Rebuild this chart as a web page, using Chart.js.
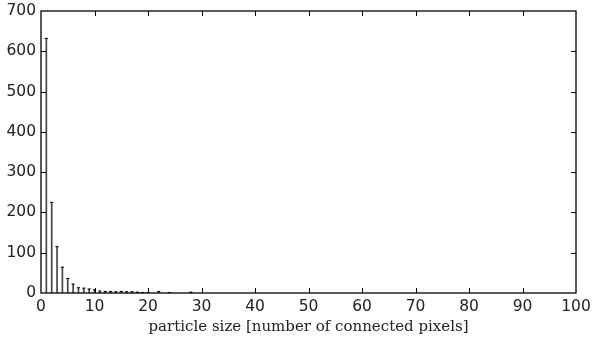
<!DOCTYPE html>
<html>
<head>
<meta charset="utf-8">
<script src="https://cdn.jsdelivr.net/npm/chart.js@4"></script>
<style>
    html, body { margin: 0; padding: 0; background: #fff; }
    #wrap { width: 593px; height: 343px; }
</style>
</head>
<body>
<div id="wrap"><canvas id="myChart" width="593" height="343"></canvas></div>
<script>
// particle sizes (number of connected pixels) and their counts
const sizes  = [1, 2, 3, 4, 5, 6, 7, 8, 9, 10, 11, 12, 13, 14, 15, 16, 17, 18, 19, 20, 22, 24, 28];
const counts = [632, 225, 115, 64, 36, 22, 13, 12, 10, 8, 5, 4, 4, 3, 4, 3, 3, 2, 1, 1, 4, 1, 2];

const xTicks = [0, 10, 20, 30, 40, 50, 60, 70, 80, 90, 100];
const yTicks = [0, 100, 200, 300, 400, 500, 600, 700];

const points = sizes.map((s, i) => ({ x: s, y: counts[i] }));

// frame + inward ticks on all four sides
const frameTicks = {
    id: 'frameTicks',
    afterDraw(chart) {
        const { ctx, chartArea: a, scales } = chart;
        ctx.save();
        ctx.strokeStyle = '#000';
        ctx.lineWidth = 1.3;
        ctx.strokeRect(a.left, a.top, a.right - a.left, a.bottom - a.top);
        ctx.lineWidth = 1;
        ctx.beginPath();
        xTicks.slice(1, -1).forEach(v => {
            const px = Math.round(scales.x.getPixelForValue(v)) + 0.5;
            ctx.moveTo(px, a.bottom); ctx.lineTo(px, a.bottom - 5);
            ctx.moveTo(px, a.top); ctx.lineTo(px, a.top + 5);
        });
        yTicks.slice(1, -1).forEach(v => {
            const py = Math.round(scales.y.getPixelForValue(v)) + 0.5;
            ctx.moveTo(a.left, py); ctx.lineTo(a.left + 5, py);
            ctx.moveTo(a.right, py); ctx.lineTo(a.right - 5, py);
        });
        ctx.stroke();
        ctx.restore();
    },
};

const ctx = document.getElementById('myChart').getContext('2d');

const config = {
    data: {
        datasets: [
            {
                type: 'bar',
                data: points,
                backgroundColor: '#444',
                borderWidth: 0,
                barThickness: 1,
                order: 2,
            },
            {
                type: 'scatter',
                data: points,
                pointStyle: 'line',
                radius: 1.6,
                borderColor: '#000',
                borderWidth: 1,
                order: 1,
            },
        ],
    },
    options: {
        responsive: false,
        animation: false,
        layout: {
            padding: { top: 11, right: 17, left: 0, bottom: 7 },
        },
        plugins: {
            legend: { display: false },
            tooltip: { enabled: false },
        },
        scales: {
            x: {
                type: 'linear',
                min: 0,
                max: 100,
                offset: false,
                afterFit: (scale) => {
                    scale.height = 43;
                    scale.paddingLeft = 0;
                    scale.paddingRight = 0;
                },
                afterBuildTicks: (scale) => { scale.ticks = xTicks.map(v => ({ value: v })); },
                grid: { display: false, drawTicks: false, offset: false },
                border: { display: false },
                ticks: {
                    padding: 5,
                    color: '#222',
                    font: { family: 'DejaVu Sans', size: 15.5 },
                    maxRotation: 0,
                },
                title: {
                    display: true,
                    text: 'particle size [number of connected pixels]',
                    color: '#222',
                    padding: { top: 0, bottom: 0 },
                    font: { family: 'DejaVu Serif', size: 15 },
                },
            },
            y: {
                min: 0,
                max: 700,
                afterFit: (scale) => {
                    scale.width = 41;
                    scale.paddingTop = 0;
                    scale.paddingBottom = 0;
                },
                afterBuildTicks: (scale) => { scale.ticks = yTicks.map(v => ({ value: v })); },
                grid: { display: false, drawTicks: false },
                border: { display: false },
                ticks: {
                    padding: 5,
                    color: '#222',
                    font: { family: 'DejaVu Sans', size: 15.5 },
                },
            },
        },
    },
    plugins: [frameTicks],
};

const myChart = new Chart(ctx, config);
</script>
</body>
</html>
